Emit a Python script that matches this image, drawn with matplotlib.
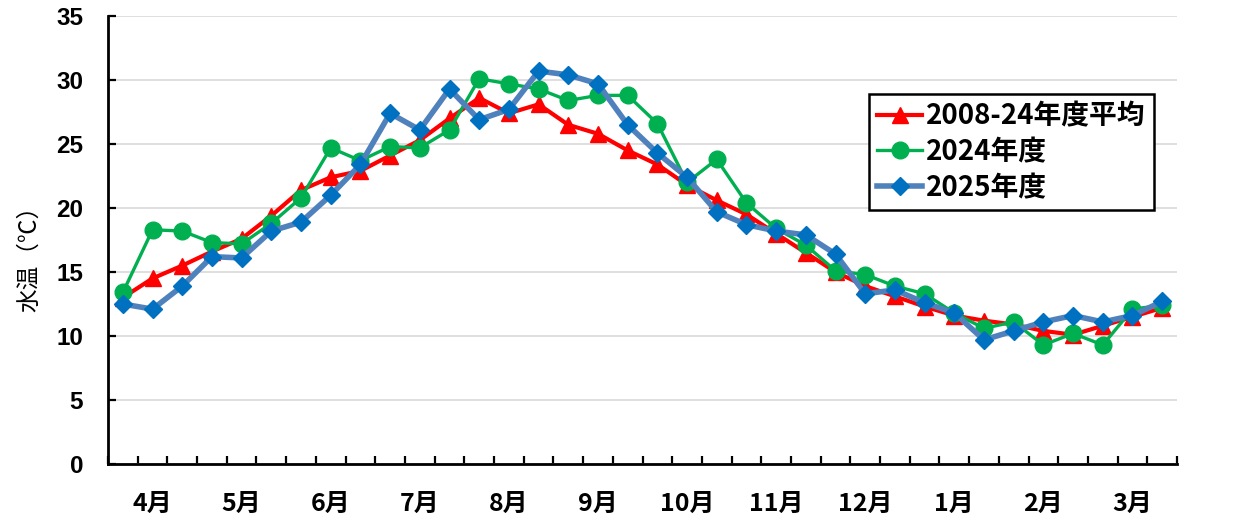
import numpy as np
import matplotlib
matplotlib.use("Agg")
import matplotlib.pyplot as plt

# 旬別水温 (上旬・中旬・下旬 x 12か月, 4月〜3月)
months = ["4月", "5月", "6月", "7月", "8月", "9月",
          "10月", "11月", "12月", "1月", "2月", "3月"]

avg_2008_24 = [13.0, 14.5, 15.5, 16.6, 17.6, 19.4, 21.4, 22.4, 22.9, 24.1, 25.3, 27.0,
               28.6, 27.4, 28.1, 26.5, 25.8, 24.5, 23.4, 21.8, 20.6, 19.5, 18.0, 16.5,
               15.0, 13.9, 13.1, 12.3, 11.6, 11.2, 10.9, 10.4, 10.1, 10.8, 11.5, 12.2]

fy2024 = [13.4, 18.3, 18.2, 17.3, 17.2, 18.8, 20.8, 24.7, 23.7, 24.8, 24.7, 26.1,
          30.1, 29.7, 29.3, 28.4, 28.8, 28.8, 26.6, 22.0, 23.8, 20.4, 18.4, 17.1,
          15.1, 14.8, 13.9, 13.3, 11.8, 10.6, 11.1, 9.3, 10.2, 9.3, 12.1, 12.4]

fy2025 = [12.5, 12.1, 13.9, 16.2, 16.1, 18.2, 18.9, 21.0, 23.4, 27.4, 26.1, 29.3,
          26.9, 27.7, 30.7, 30.4, 29.7, 26.5, 24.3, 22.4, 19.7, 18.7, 18.2, 17.9,
          16.4, 13.3, 13.6, 12.6, 11.8, 9.7, 10.4, 11.1, 11.6, 11.1, 11.6, 12.7]

series_labels = ["2008-24年度平均", "2024年度", "2025年度"]

JP = ["Noto Sans CJK JP", "DejaVu Sans"]


def main():
    n = len(avg_2008_24)
    x = np.arange(n)

    fig = plt.figure(figsize=(12.33, 5.32), dpi=100)
    ax = fig.add_axes([0.0876, 0.1278, 0.8670, 0.8421])

    ax.plot(x, avg_2008_24, color="#FF0000", lw=3.0, marker="^", ms=11,
            mfc="#FF0000", mec="#FF0000", label=series_labels[0], zorder=3)
    ax.plot(x, fy2024, color="#00B050", lw=2.4, marker="o", ms=12,
            mfc="#00B050", mec="#00B050", label=series_labels[1], zorder=4)
    ax.plot(x, fy2025, color="#4F81BD", lw=4.0, marker="D", ms=9,
            mfc="#0070C0", mec="#0070C0", label=series_labels[2], zorder=5)

    ax.set_xlim(-0.5, n - 0.5)
    ax.set_ylim(0, 35)

    # y axis
    ax.set_yticks(np.arange(0, 36, 5))
    ax.tick_params(axis="y", direction="in", length=6, width=1.6, pad=18)
    for lab in ax.get_yticklabels():
        lab.set_fontfamily("Liberation Sans")
        lab.set_fontweight("bold")
        lab.set_fontsize(17.5)
    ax.yaxis.grid(True, color="#D9D9D9", lw=1.2)
    ax.set_axisbelow(True)

    # x axis: month label on middle 旬, ticks between 旬
    ax.set_xticks(np.arange(1, n, 3))
    ax.set_xticklabels(months, family=JP, fontweight="bold", fontsize=18)
    ax.set_xticks(np.arange(-0.5, n, 1), minor=True)
    ax.tick_params(axis="x", which="major", length=0, pad=20)
    ax.tick_params(axis="x", which="minor", direction="in", length=6, width=1.6)

    for side in ["top", "right"]:
        ax.spines[side].set_visible(False)
    for side in ["left", "bottom"]:
        ax.spines[side].set_linewidth(2.0)

    fig.text(30 / 1233, 1 - 253 / 532, "水温（℃）", rotation=90, ha="center",
             va="center", family=JP, fontsize=17)

    leg = ax.legend(loc="upper left", bbox_to_anchor=(869 / 1233, 1 - 94 / 532),
                    bbox_transform=fig.transFigure, borderaxespad=0,
                    prop={"family": JP, "weight": "bold", "size": 20},
                    frameon=True, fancybox=False, edgecolor="black", framealpha=1,
                    handlelength=1.6, handletextpad=0.15, labelspacing=0.28,
                    borderpad=0.3, numpoints=1)
    leg.get_frame().set_linewidth(1.8)

    fig.savefig("out.png", dpi=100, facecolor="white")
    plt.close(fig)


if __name__ == "__main__":
    main()
